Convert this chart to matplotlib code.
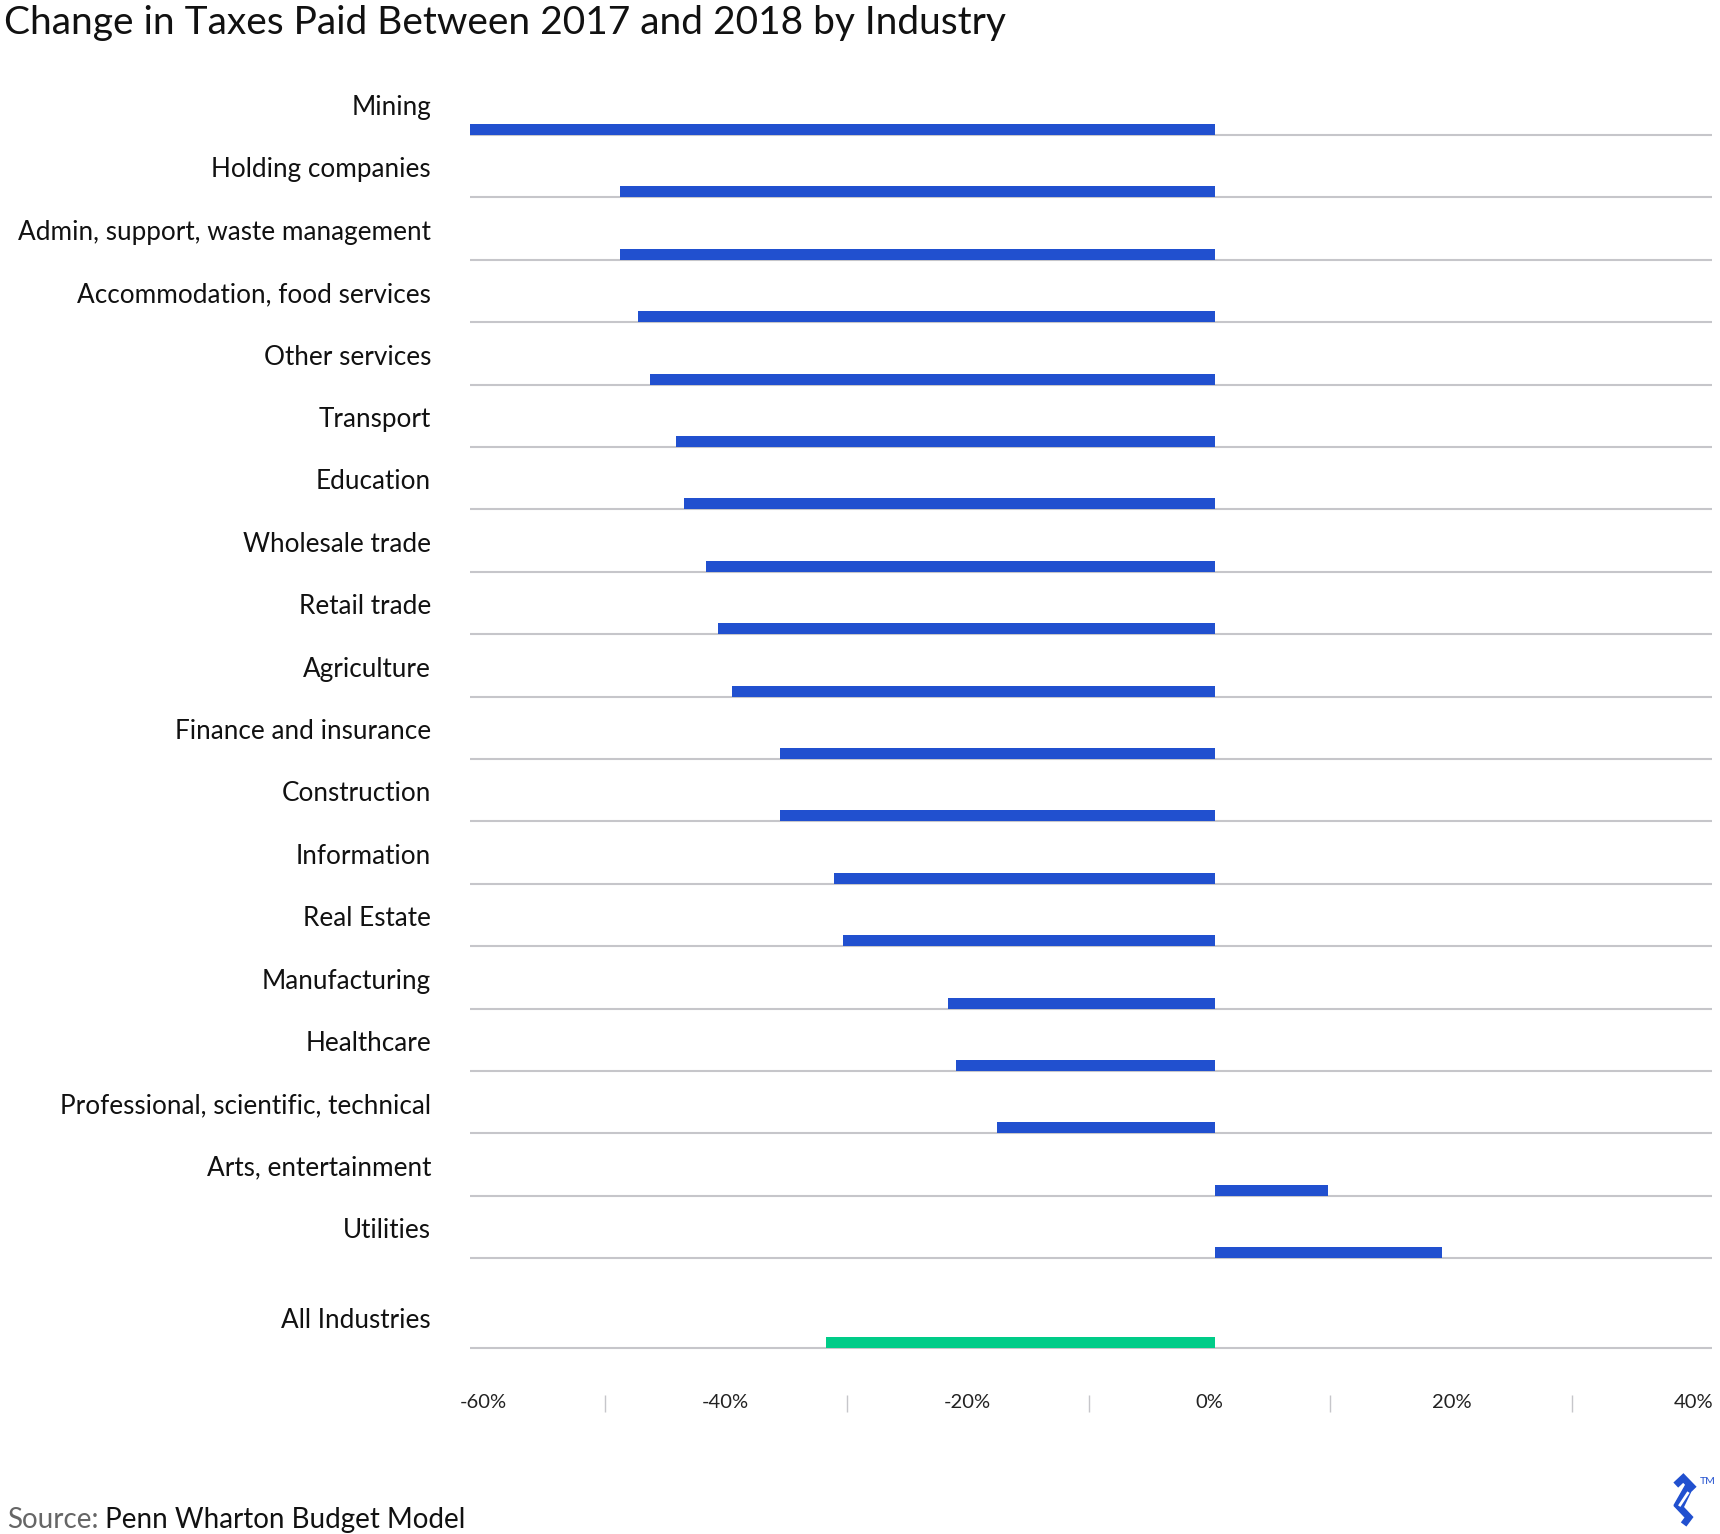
import numpy as np
import matplotlib
matplotlib.use("Agg")
import matplotlib.pyplot as plt
import matplotlib.transforms as mtransforms
from matplotlib.patches import Polygon

# ---------------------------------------------
# Dados
# ---------------------------------------------
industries = ["Mining", "Holding companies", "Admin, support, waste management",
              "Accommodation, food services", "Other services", "Transport",
              "Education", "Wholesale trade", "Retail trade", "Agriculture",
              "Finance and insurance", "Construction", "Information",
              "Real Estate", "Manufacturing", "Healthcare",
              "Professional, scientific, technical", "Arts, entertainment",
              "Utilities"]
change = [-60.0, -47.9, -47.9, -46.5, -45.5, -43.4, -42.8, -41.0, -40.0,
          -38.9, -35.0, -35.0, -30.7, -30.0, -21.5, -20.9, -17.6, 9.1, 18.3]

total_label = "All Industries"
total_change = -31.3

tick_labels = ["-60%", "-40%", "-20%", "0%", "20%", "40%"]

BLUE = "#2150CF"
GREEN = "#00CC88"
GRID = "#C6C6CA"

plt.rcParams["font.family"] = ["Lato", "DejaVu Sans"]

# ---------------------------------------------
# Layout (pixels -> rows)
# ---------------------------------------------
W, H = 1720, 1534
row0, row_h = 135, 62.4           # first gridline and row spacing (px)
def row(px):
    return (px - row0) / row_h

fig = plt.figure(figsize=(W / 100, H / 100), dpi=100)
ax = fig.add_axes([470 / W, 1 - 1430 / H, 1242 / W, 1370 / H])
ax.set_xlim(-60, 40)
ax.set_ylim(row(1430), row(60))
ax.axis("off")

y_rows = np.arange(len(industries), dtype=float)
y_total = row(1348)
bar_h = 11 / row_h

# gridlines
ax.hlines(np.append(y_rows, y_total), -60, 40, color=GRID, lw=1.5, zorder=1)

# barras
ax.barh(y_rows - bar_h / 2, change, height=bar_h, color=BLUE, zorder=2)
ax.barh(y_total - bar_h / 2, total_change, height=bar_h, color=GREEN, zorder=2)

# rótulos das categorias
lab_tr = mtransforms.blended_transform_factory(fig.transFigure, ax.transData)
for y, name in zip(y_rows, industries):
    ax.text(431 / W, y - 20 / row_h, name, transform=lab_tr, ha="right",
            va="baseline", fontsize=18.8, color="#111111")
ax.text(431 / W, y_total - 20 / row_h, total_label, transform=lab_tr,
        ha="right", va="baseline", fontsize=18.8, color="#111111")

# eixo x (rótulos + separadores)
tick_x = np.linspace(-58.9, 38.5, len(tick_labels))
for x, t in zip(tick_x, tick_labels):
    ax.text(x, row(1403), t, ha="center", va="center", fontsize=14.5,
            color="#222222")
sep_x = (tick_x[:-1] + tick_x[1:]) / 2
ax.vlines(sep_x, row(1395), row(1412), color=GRID, lw=1)

# título e fonte
fig.text(4 / W, 1 - 34 / H, "Change in Taxes Paid Between 2017 and 2018 by Industry",
         fontsize=28, color="#111111", ha="left", va="baseline")
src = fig.text(7 / W, 1 - 1528 / H, "Source:", fontsize=20, color="#666666",
               ha="left", va="baseline")
fig.canvas.draw()
bb = src.get_window_extent()
fig.text(bb.x1 / W, 1 - 1528 / H, " Penn Wharton Budget Model", fontsize=20,
         color="#111111", ha="left", va="baseline")

# logo
def fpt(x, y):
    return (x / W, 1 - y / H)

body = Polygon([fpt(1685.7, 1485), fpt(1692.3, 1488.3), fpt(1681, 1511.7),
                fpt(1674.3, 1505)], closed=True, transform=fig.transFigure,
               color=BLUE)
fig.add_artist(body)
for pts, c, w in [([(1678.3, 1482.7), (1683.3, 1478), (1691.7, 1486.7)], BLUE, 5),
                  ([(1678.3, 1506), (1689, 1517.3), (1685.7, 1521.7)], BLUE, 5),
                  ([(1680, 1505), (1687.7, 1493.3)], "white", 2)]:
    xs, ys = zip(*[fpt(*p) for p in pts])
    fig.add_artist(plt.Line2D(xs, ys, transform=fig.transFigure, color=c,
                              lw=w, solid_joinstyle="miter"))
fig.text(1700 / W, 1 - 1484 / H, "TM", fontsize=7.5, color=BLUE)

fig.savefig("out.png", dpi=100)
